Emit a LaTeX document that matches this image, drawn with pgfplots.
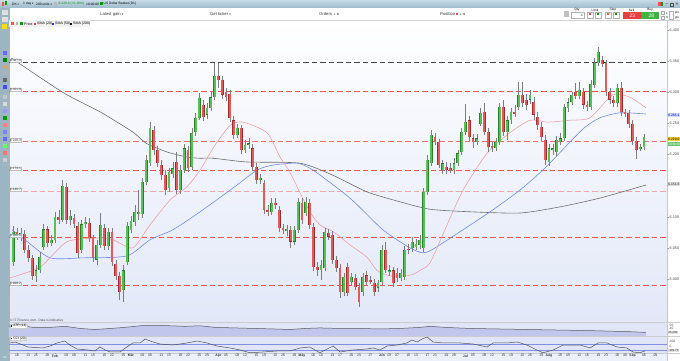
\documentclass[border=0pt]{standalone}
\usepackage{pgfplots}
\pgfplotsset{compat=1.18}
\usepackage{pgfplotstable}
\usepackage{fontspec}
\setmainfont{Liberation Sans}
\newfontfamily\symf{DejaVu Sans}
\newcommand\tf[1]{\fontsize{#1}{#1}\selectfont}
\definecolor{tbTop}{RGB}{200,218,230}
\definecolor{tbBot}{RGB}{156,186,203}
\definecolor{sidebar}{RGB}{156,181,195}
\definecolor{chartBot}{RGB}{226,232,248}
\definecolor{panelbg}{RGB}{224,230,248}
\definecolor{atrfill}{RGB}{192,198,236}
\definecolor{upbody}{RGB}{88,192,88}
\definecolor{upedge}{RGB}{40,128,40}
\definecolor{dnbody}{RGB}{224,92,92}
\definecolor{dnedge}{RGB}{160,44,44}
\definecolor{wick}{RGB}{125,125,125}
\definecolor{lvlred}{RGB}{240,82,82}
\definecolor{lvlred2}{RGB}{243,110,110}
\definecolor{lvlpink}{RGB}{246,165,165}
\definecolor{lvlblack}{RGB}{70,70,70}
\definecolor{smaA}{RGB}{240,155,155}
\definecolor{smaB}{RGB}{110,140,240}
\definecolor{smaC}{RGB}{110,110,110}
\definecolor{ccilvl}{RGB}{130,142,228}
\definecolor{sellred}{RGB}{232,64,64}
\definecolor{buygreen}{RGB}{64,180,64}
\definecolor{boxblue}{RGB}{205,216,250}
\definecolor{boxyellow}{RGB}{238,205,40}
\definecolor{boxgreen}{RGB}{110,196,110}

% up (green) candles: index, open, high, low, close
\pgfplotstableread{
i o h l c
-1 6.027 6.085 6.021 6.076
1 6.069 6.082 6.061 6.074
5 6.005 6.023 5.995 6.014
6 6.014 6.043 6.010 6.035
7 6.051 6.088 6.047 6.080
9 6.058 6.071 6.053 6.063
10 6.063 6.108 6.058 6.100
12 6.095 6.159 6.092 6.149
14 6.095 6.111 6.087 6.101
17 6.047 6.095 6.042 6.088
18 6.088 6.100 6.082 6.092
21 6.031 6.063 6.023 6.055
22 6.055 6.106 6.050 6.087
24 6.053 6.082 6.047 6.076
28 5.982 6.023 5.963 6.014
29 6.027 6.092 6.023 6.085
30 6.079 6.101 6.074 6.093
31 6.092 6.119 6.085 6.108
32 6.104 6.143 6.095 6.108
33 6.104 6.162 6.098 6.156
34 6.156 6.199 6.151 6.191
35 6.186 6.252 6.182 6.243
40 6.146 6.178 6.140 6.172
41 6.169 6.188 6.162 6.178
43 6.143 6.183 6.137 6.175
44 6.175 6.217 6.170 6.210
46 6.180 6.243 6.175 6.235
47 6.236 6.267 6.230 6.259
48 6.259 6.299 6.255 6.291
50 6.264 6.283 6.257 6.275
51 6.275 6.300 6.270 6.292
52 6.292 6.347 6.288 6.326
58 6.231 6.249 6.226 6.243
60 6.207 6.223 6.202 6.215
61 6.215 6.226 6.209 6.218
64 6.159 6.169 6.153 6.162
67 6.108 6.130 6.103 6.122
71 6.079 6.087 6.069 6.080
73 6.060 6.085 6.055 6.079
74 6.079 6.130 6.074 6.124
76 6.106 6.132 6.101 6.124
80 6.014 6.031 5.998 6.023
81 6.018 6.082 6.013 6.076
86 5.979 6.010 5.973 6.003
88 5.995 6.010 5.989 6.003
91 5.979 6.010 5.973 6.003
95 5.986 5.998 5.979 5.994
96 5.995 6.055 5.990 6.047
98 6.011 6.023 6.005 6.014
101 6.002 6.016 5.997 6.010
102 6.003 6.053 5.998 6.047
104 6.050 6.068 6.043 6.060
105 6.051 6.064 6.047 6.056
106 6.055 6.071 6.048 6.063
107 6.050 6.146 6.043 6.140
108 6.140 6.199 6.135 6.191
109 6.186 6.239 6.182 6.231
112 6.175 6.191 6.169 6.186
115 6.175 6.194 6.169 6.186
116 6.186 6.207 6.182 6.202
117 6.204 6.243 6.199 6.236
118 6.236 6.281 6.231 6.252
121 6.220 6.233 6.215 6.226
122 6.249 6.275 6.246 6.267
126 6.210 6.226 6.206 6.220
127 6.220 6.283 6.215 6.276
129 6.236 6.262 6.223 6.255
130 6.255 6.275 6.249 6.268
132 6.276 6.317 6.271 6.296
135 6.288 6.304 6.281 6.296
140 6.188 6.217 6.182 6.210
141 6.207 6.217 6.199 6.210
142 6.204 6.230 6.197 6.223
143 6.220 6.235 6.215 6.226
144 6.226 6.281 6.222 6.276
145 6.275 6.291 6.268 6.284
146 6.284 6.300 6.280 6.296
148 6.294 6.317 6.289 6.304
151 6.276 6.320 6.271 6.313
152 6.312 6.355 6.307 6.347
153 6.347 6.373 6.342 6.365
158 6.283 6.313 6.276 6.307
164 6.210 6.217 6.206 6.212
165 6.212 6.233 6.207 6.229
}\upc

% down (red) candles
\pgfplotstableread{
i o h l c
0 6.076 6.082 6.063 6.069
2 6.072 6.079 6.042 6.047
3 6.047 6.055 6.027 6.034
4 6.034 6.039 5.998 6.005
8 6.080 6.085 6.051 6.058
11 6.100 6.111 6.088 6.095
13 6.148 6.154 6.088 6.095
15 6.098 6.104 6.082 6.088
16 6.085 6.092 6.034 6.042
19 6.090 6.098 6.059 6.066
20 6.066 6.071 6.027 6.034
23 6.082 6.088 6.047 6.053
25 6.076 6.082 6.021 6.027
26 6.024 6.031 5.998 6.005
27 6.005 6.011 5.966 5.979
36 6.239 6.246 6.199 6.207
37 6.207 6.214 6.180 6.186
38 6.183 6.191 6.159 6.167
39 6.167 6.175 6.135 6.143
42 6.188 6.204 6.137 6.143
45 6.207 6.214 6.172 6.178
49 6.280 6.288 6.254 6.260
53 6.326 6.347 6.307 6.320
54 6.320 6.326 6.289 6.296
55 6.300 6.307 6.286 6.292
56 6.297 6.304 6.252 6.259
57 6.255 6.262 6.225 6.231
59 6.243 6.247 6.201 6.207
62 6.210 6.217 6.173 6.180
63 6.180 6.186 6.153 6.159
65 6.154 6.159 6.104 6.111
66 6.111 6.119 6.101 6.108
68 6.122 6.130 6.112 6.119
69 6.111 6.117 6.076 6.082
70 6.082 6.088 6.072 6.079
72 6.079 6.085 6.050 6.060
75 6.122 6.130 6.088 6.095
77 6.122 6.129 6.080 6.087
78 6.084 6.090 6.013 6.019
79 6.019 6.027 6.005 6.014
82 6.074 6.080 6.063 6.068
83 6.071 6.077 6.024 6.031
84 6.031 6.037 6.011 6.018
85 6.018 6.024 5.969 5.979
87 6.019 6.026 5.973 5.978
89 6.002 6.008 5.982 5.987
90 5.987 5.994 5.955 5.963
92 6.006 6.013 5.990 5.995
93 5.998 6.005 5.992 5.997
94 5.994 6.000 5.973 5.979
97 6.047 6.060 6.010 6.014
99 6.014 6.019 5.987 5.994
100 6.010 6.018 5.995 6.002
103 6.048 6.056 6.040 6.047
110 6.228 6.235 6.215 6.220
111 6.220 6.225 6.178 6.183
113 6.180 6.188 6.169 6.175
114 6.178 6.186 6.170 6.177
119 6.255 6.262 6.222 6.228
120 6.226 6.233 6.210 6.220
123 6.268 6.283 6.231 6.236
124 6.236 6.243 6.204 6.212
125 6.214 6.220 6.204 6.210
128 6.276 6.288 6.230 6.236
131 6.268 6.280 6.260 6.267
133 6.296 6.317 6.276 6.283
134 6.288 6.297 6.271 6.280
136 6.284 6.292 6.255 6.264
137 6.260 6.268 6.239 6.247
138 6.244 6.252 6.222 6.228
139 6.223 6.231 6.183 6.191
147 6.300 6.315 6.289 6.294
149 6.300 6.307 6.273 6.280
150 6.280 6.286 6.270 6.276
154 6.352 6.358 6.341 6.345
155 6.347 6.352 6.294 6.300
156 6.300 6.307 6.281 6.288
157 6.288 6.294 6.276 6.283
159 6.307 6.317 6.262 6.268
160 6.268 6.273 6.260 6.267
161 6.267 6.271 6.243 6.249
162 6.249 6.255 6.215 6.222
163 6.222 6.228 6.193 6.207
}\dnc

\pgfplotsset{
  panel/.style={scale only axis, width=658pt, xmin=-2.105, xmax=171.05,
    axis line style={draw=none}, clip=true,
    /pgf/number format/assume math mode=true,
    tick style={draw=gray!70, line width=0.3pt}, major tick length=1.5pt, tick align=outside},
  nomark/.style={only marks, mark=*, mark size=0pt, mark options={draw=none, fill=none}},
  wicks/.style={nomark, forget plot, error bars/.cd, y dir=both, y explicit,
    error mark=none, error bar style={draw=wick, line width=0.55pt}},
  bodies/.style 2 args={nomark, forget plot, error bars/.cd, y dir=both, y explicit,
    error mark=none, error bar style={draw=#1, line width=#2}},
  lvl/.style={forget plot, no marks, line width=0.95pt, dash pattern=on 5.5pt off 3pt},
}
\tikzset{lvllab/.style={anchor=south west, fill=white, fill opacity=0.85, text opacity=1, draw=gray!50,
    line width=0.2pt, inner sep=0.5pt, font=\tf{3.2}, text=black!75}}

\begin{document}
\begin{tikzpicture}[x=1pt,y=1pt]
\path[use as bounding box] (0,0) rectangle (680,361);
\fill[white] (0,0) rectangle (680,361);
% chart background
\shade[top color=white, bottom color=chartBot] (9,39) rectangle (667,341);
\fill[panelbg] (9,8) rectangle (667,39);
\fill[white!40!panelbg] (9,0) rectangle (667,8);
% top bar and toolbar strip
\shade[top color=tbTop, bottom color=tbBot] (0,353) rectangle (680,361);
\fill[white] (0,341) rectangle (680,353);
\draw[gray!35, line width=0.4pt] (0,341) -- (680,341);
\fill[sidebar] (0,0) rectangle (9,353);
\draw[gray!60, line width=0.4pt] (9,0) -- (9,353);
\draw[gray!45, line width=0.4pt] (667,0) -- (667,341);
\draw[gray!40, line width=0.4pt] (9,39) -- (680,39);
\draw[gray!40, line width=0.4pt] (9,25) -- (680,25);
\draw[gray!40, line width=0.4pt] (9,8) -- (680,8);

% ---------- price panel ----------
\begin{axis}[panel, at={(9pt,39pt)}, anchor=south west, height=302pt,
  ymin=5.93093, ymax=6.41606, xtick=\empty,
  ytick={6.0,6.05,6.1,6.15,6.2,6.25,6.3,6.35,6.4},
  yticklabels={6.000,6.050,6.100,,6.200,6.250,6.300,6.350,6.400},
  ytick pos=right, yticklabel pos=right,
  yticklabel style={font=\tf{3.8}, text=black!70, inner sep=1pt}]
% horizontal levels
\addplot[lvl, color=lvlblack] coordinates {(-3,6.3479) (172,6.3479)};
\addplot[lvl, color=lvlred] coordinates {(-3,6.3018) (172,6.3018)};
\addplot[lvl, color=lvlred2] coordinates {(-3,6.2203) (172,6.2203)};
\addplot[lvl, color=lvlred] coordinates {(-3,6.1741) (172,6.1741)};
\addplot[lvl, color=lvlpink] coordinates {(-3,6.1407) (172,6.1407)};
\addplot[lvl, color=lvlred] coordinates {(-3,6.0665) (172,6.0665)};
\addplot[lvl, color=lvlred] coordinates {(-3,5.9902) (172,5.9902)};
% moving averages
\addplot[smaC, no marks, line width=0.6pt, smooth, tension=0.4, forget plot] coordinates {
(-1.5,6.355) (12,6.300) (22,6.268) (30.5,6.236) (34,6.218) (39.5,6.204) (44.7,6.196)
(48,6.194) (51.6,6.194) (60.5,6.188) (74.5,6.186) (83,6.167) (92.1,6.140) (100.8,6.124)
(108.7,6.112) (119.2,6.108) (132.4,6.106) (143,6.116) (153.4,6.130) (165.5,6.151)};
\addplot[smaB, no marks, line width=0.6pt, smooth, tension=0.4, forget plot] coordinates {
(-1.3,6.079) (2.1,6.063) (8.7,6.034) (17.4,6.034) (28.9,6.037) (35,6.063) (41,6.079)
(48.2,6.108) (56.8,6.146) (63.2,6.175) (67.4,6.183) (73.7,6.186) (77.9,6.175) (87.6,6.130)
(96.3,6.079) (103.4,6.050) (106.8,6.042) (109.2,6.047) (116.6,6.076) (124.5,6.108)
(132.4,6.143) (138.9,6.178) (145.5,6.220) (149.5,6.244) (153.4,6.259) (158.7,6.267) (165.5,6.265)};
\addplot[smaA, no marks, line width=0.55pt, smooth, tension=0.4, forget plot] coordinates {
(-1.8,6.002) (6.05,6.019) (13.2,6.060) (21.8,6.066) (25.3,6.063) (30.5,6.050) (35,6.087)
(40.3,6.127) (44.7,6.148) (48.2,6.175) (52.1,6.215) (56.1,6.247) (59.5,6.252) (65.8,6.235)
(69.2,6.196) (71.8,6.172) (74.5,6.138) (77.1,6.108) (79.7,6.087) (83.2,6.076) (87.6,6.055)
(92.1,6.035) (94.7,6.014) (98.2,6.005) (103.4,6.006) (106.1,6.014) (108.7,6.026) (112.6,6.079)
(117.4,6.143) (123.7,6.202) (129.7,6.235) (135,6.255) (139.5,6.252) (145.5,6.255) (150.8,6.259)
(156.8,6.296) (161.3,6.292) (165.5,6.275)};
% candles: wicks
\addplot[wicks] table[x=i, y expr={(\thisrow{h}+\thisrow{l})/2}, y error expr={(\thisrow{h}-\thisrow{l})/2}] {\upc};
\addplot[wicks] table[x=i, y expr={(\thisrow{h}+\thisrow{l})/2}, y error expr={(\thisrow{h}-\thisrow{l})/2}] {\dnc};
% candles: bodies
\addplot[bodies={upedge}{2.9pt}] table[x=i, y expr={(\thisrow{o}+\thisrow{c})/2}, y error expr={max(abs(\thisrow{c}-\thisrow{o})/2,0.0007)}] {\upc};
\addplot[bodies={upbody}{2.0pt}] table[x=i, y expr={(\thisrow{o}+\thisrow{c})/2}, y error expr={max(abs(\thisrow{c}-\thisrow{o})/2-0.0004,0.0004)}] {\upc};
\addplot[bodies={dnedge}{2.9pt}] table[x=i, y expr={(\thisrow{o}+\thisrow{c})/2}, y error expr={max(abs(\thisrow{c}-\thisrow{o})/2,0.0007)}] {\dnc};
\addplot[bodies={dnbody}{2.0pt}] table[x=i, y expr={(\thisrow{o}+\thisrow{c})/2}, y error expr={max(abs(\thisrow{c}-\thisrow{o})/2-0.0004,0.0004)}] {\dnc};
% level labels
\node[lvllab] at (axis cs:-1.95,6.3479) {6.347.9};
\node[lvllab] at (axis cs:-1.95,6.3018) {6.301.8};
\node[lvllab] at (axis cs:-1.95,6.2203) {6.220.3};
\node[lvllab] at (axis cs:-1.95,6.1741) {6.174.1};
\node[lvllab] at (axis cs:-1.95,6.1407) {6.140.7};
\node[lvllab] at (axis cs:-1.95,6.0665) {6.066.5};
\node[lvllab] at (axis cs:-1.95,5.9902) {5.990.2};
\end{axis}

% ---------- ATR panel ----------
\begin{axis}[panel, at={(9pt,25pt)}, anchor=south west, height=14pt,
  ymin=14.8, ymax=56.4, xtick=\empty, ytick=\empty]
\addplot[draw=none, fill=atrfill, forget plot] coordinates {
(-2.2,43.6) (0.8,46.8) (4.2,40.4) (8.7,40.4) (12.6,43.6) (16.6,37.2) (20.5,34) (24.5,37.2)
(28.4,40.4) (32.4,45.2) (36.3,46.8) (40.3,45.2) (44.2,43.6) (48.2,45.2) (52.1,40.4) (57.4,38.8)
(62.6,37.2) (67.9,35.6) (71.8,34) (75.8,37.2) (79.7,38.8) (85,37.2) (90.3,37.2) (95.5,35.6)
(100.8,37.2) (106.1,40.4) (108.7,43.6) (112.6,40.4) (119.2,37.2) (127.1,35.6) (135,34)
(142.9,32.4) (150.8,30.8) (156,29.2) (161.3,27.6) (165.5,25.4)} \closedcycle;
\addplot[draw=gray!70!black, no marks, line width=0.5pt, forget plot] coordinates {
(-2.2,43.6) (0.8,46.8) (4.2,40.4) (8.7,40.4) (12.6,43.6) (16.6,37.2) (20.5,34) (24.5,37.2)
(28.4,40.4) (32.4,45.2) (36.3,46.8) (40.3,45.2) (44.2,43.6) (48.2,45.2) (52.1,40.4) (57.4,38.8)
(62.6,37.2) (67.9,35.6) (71.8,34) (75.8,37.2) (79.7,38.8) (85,37.2) (90.3,37.2) (95.5,35.6)
(100.8,37.2) (106.1,40.4) (108.7,43.6) (112.6,40.4) (119.2,37.2) (127.1,35.6) (135,34)
(142.9,32.4) (150.8,30.8) (156,29.2) (161.3,27.6) (165.5,25.4)};
\end{axis}

% ---------- CCI panel with date axis ----------
\begin{axis}[panel, at={(9pt,8pt)}, anchor=south west, height=17pt,
  ymin=-177, ymax=346, ytick=\empty, xtick pos=bottom, major tick length=0.8pt,
  xtick={0,3,5,8,10,13,15,18,20,23,25,28,30,33,35,38,40,43,45,48,50,53,55,58,60,63,65,68,70,73,75,78,80,83,85,88,90,93,96,98,100,103,105,108,110,113,115,118,120,123,125,128,130,133,135,138,140,143,145,148,150,153,155,158,160,162,165,168},
  xticklabels={18,21,25,28,\textbf{Feb},04,08,11,15,18,22,25,\textbf{Mar},04,08,11,15,18,22,25,29,\textbf{Apr},05,08,12,15,19,22,26,29,\textbf{May},06,10,13,17,20,24,27,\textbf{Jun},03,07,10,14,17,21,24,28,\textbf{Jul},05,08,12,15,19,22,26,29,\textbf{Aug},05,09,12,16,19,23,26,30,\textbf{Sep},06,09},
  xticklabel style={font=\tf{3.4}, text=black!80, inner sep=0.6pt}]
\addplot[ccilvl, no marks, line width=0.6pt, forget plot] coordinates {(-3,100) (172,100)};
\addplot[ccilvl, no marks, line width=0.6pt, forget plot] coordinates {(-3,-100) (172,-100)};
\addplot[gray!65!black, no marks, line width=0.5pt, forget plot] coordinates {
(-1.8,131) (-0.5,162) (1.6,69) (2.9,8) (6.8,-23) (8.7,38) (10.5,131) (12.6,192) (13.9,69)
(15.8,-54) (18.7,-85) (20.5,-115) (21.8,8) (23.2,-85) (24.5,-146) (27.1,-146) (28.9,8)
(30.5,131) (32.4,131) (33.7,254) (35.8,162) (37.6,100) (41,69) (44.7,131) (47.4,192) (50,131)
(52.6,38) (56.1,-23) (58.7,-85) (61.3,-170) (64.7,-146) (68.4,-115) (71.8,-115) (74.5,-23)
(77.1,8) (78.4,-85) (79.7,-170) (81.6,-54) (83.2,38) (85,-146) (88.4,-85) (92.1,-54)
(93.7,-23) (95.5,-85) (97.4,38) (100,69) (102.6,131) (103.9,223) (105.3,162) (106.6,254)
(107.9,315) (109.5,162) (112.1,131) (116.6,131) (120,100) (123.7,8) (125.3,131) (128.9,131)
(131.6,162) (134.2,69) (136.8,-85) (138.4,-170) (141.1,-85) (143.7,69) (148.2,69) (150.8,-23)
(152.9,131) (155.3,131) (157.9,8) (160.5,-23) (162.1,-146) (163.9,-170) (165.3,-110)};
\end{axis}

% ---------- right-hand value boxes ----------
\node[anchor=west, fill=boxblue, text=blue!70!black, inner sep=0.6pt, font=\tf{3.3}] at (667.6,246) {6.265.1};
\node[anchor=west, fill=boxyellow, text=black, inner sep=0.6pt, font=\tf{3.3}] at (667.6,222) {6.229.0};
\node[anchor=west, fill=boxgreen, text=white, inner sep=0.6pt, font=\tf{3.0}] at (667.6,217) {13:58:50};
\node[anchor=west, fill=gray!30, text=black!80, inner sep=0.6pt, font=\tf{3.3}] at (667.6,177) {6.151.6};
\node[anchor=west, font=\tf{3.3}, text=black!70, inner sep=0.5pt] at (669,36) {50};
\node[anchor=west, font=\tf{3.3}, text=black!70, inner sep=0.5pt] at (669,32.6) {40};
\node[anchor=west, fill=gray!22, font=\tf{3.0}, text=black!80, inner sep=0.5pt] at (667.6,28.3) {25.404};
\node[anchor=west, font=\tf{3.3}, text=black!70, inner sep=0.5pt] at (669,20) {200};
\node[anchor=west, font=\tf{3.3}, text=black!70, inner sep=0.5pt] at (669,14.6) {0};
\node[anchor=west, fill=gray!22, font=\tf{3.0}, text=black!80, inner sep=0.5pt] at (667.6,10.2) {-109.73};

% ---------- panel captions ----------
\node[anchor=west, font=\tf{3.3}, text=black!70, inner sep=0pt] at (10,40.3) {\copyright{} IT Finance.com. Data is indicative};
\node[anchor=west, fill=white, draw=gray!40, line width=0.2pt, font=\tf{3.3}, inner sep=0.5pt] at (10,35) {\rule{1.8pt}{1.8pt} ATR (14)};
\node[anchor=west, fill=white, draw=gray!40, line width=0.2pt, font=\tf{3.3}, inner sep=0.5pt] at (10,22.5) {\rule{1.8pt}{1.8pt} CCI (20)};

% ---------- legend row ----------
\fill[gray!10] (9,334) rectangle (90,340.5);
\fill[red!70] (11,335.5) rectangle (14,338.5);
\fill[gray!60] (15.5,335.5) rectangle (18,338.5);
\fill[green!60!black] (19.5,335.5) rectangle (22.5,338.5);
\node[anchor=west, font=\tf{3.6}, inner sep=0pt] at (24,337.2) {Price};
\fill[red!75] (33.5,335.6) rectangle (36.3,338.4);
\node[anchor=west, font=\tf{3.6}, inner sep=0pt] at (37,337.2) {SMA (20)};
\fill[blue!80] (51.5,335.6) rectangle (54.3,338.4);
\node[anchor=west, font=\tf{3.6}, inner sep=0pt] at (55,337.2) {SMA (50)};
\fill[black] (69.5,335.6) rectangle (72.3,338.4);
\node[anchor=west, font=\tf{3.6}, inner sep=0pt] at (73,337.2) {SMA (200)};

% ---------- top bar ----------
\fill[red!70] (2,355) rectangle (4,359);
\fill[green!60!black] (5,355.5) rectangle (7,359.5);
\node[anchor=west, font=\tf{3.3}, inner sep=0pt] at (12,357) {DK \symf\tf{2.6}▾};
\node[anchor=west, font=\tf{3.3}, inner sep=0pt] at (23,357) {1 day \symf\tf{2.6}▾};
\node[anchor=west, font=\tf{3.3}, inner sep=0pt] at (36,357) {200 units \symf\tf{2.6}▾};
\fill[gray!55] (54,355) rectangle (57,359);
\node[anchor=west, font=\tf{3.3}, inner sep=0pt, text=green!55!black] at (58.5,357) {6.229.0 (+0.16\%)};
\node[anchor=west, font=\tf{3.3}, inner sep=0pt] at (86,357) {10:00:00};
\fill[green!60!black] (100,355.5) rectangle (102.5,358.5);
\node[anchor=west, font=\tf{3.3}, inner sep=0pt] at (103.5,357) {US Dollar Basket (D1)};
\fill[red!70] (658,355) rectangle (660.5,359);
\fill[green!60!black] (661,355) rectangle (663,359);
\node[font=\tf{4}, inner sep=0pt] at (667,357.5) {\_};
\draw[black!70, line width=0.3pt] (670,355.3) rectangle (673,358.3);
\node[font=\tf{4.5}, inner sep=0pt] at (677,357) {×};

% ---------- toolbar strip ----------
\node[anchor=west, font=\tf{4.2}, inner sep=0pt, text=black!80] at (100,347) {Latest gain \symf\tf{3}▾};
\node[anchor=west, font=\tf{4.2}, inner sep=0pt, text=black!80] at (210,347) {Get ticker \symf\tf{3}▾};
\node[anchor=west, font=\tf{4.2}, inner sep=0pt, text=black!80] at (319,347) {Orders \symf\tf{3}↓ ⚙};
\node[anchor=west, font=\tf{4.2}, inner sep=0pt, text=black!80] at (440,347) {Position {\color{red!70}\rule{2pt}{2pt}} \symf\tf{3}↓ ⚙};
\fill[gray!50] (564,344) rectangle (569,350);
\node[font=\tf{3.2}, inner sep=0pt] at (577,351) {Qty};
\draw[gray!60, fill=white, line width=0.3pt] (571,342.5) rectangle (584,348.5);
\node[font=\tf{3.2}, inner sep=0pt] at (582,345.5) {1};
\node[font=\tf{3.2}, inner sep=0pt] at (595,351) {Limit};
\draw[gray!60, fill=white, line width=0.3pt] (587.5,342.5) rectangle (593.5,348.5);
\draw[gray!60, fill=white, line width=0.3pt] (595,342.5) rectangle (601,348.5);
\fill[red!70] (589,346) rectangle (591,348); \fill[green!60!black] (597,346) rectangle (599,348);
\node[font=\tf{3.2}, inner sep=0pt] at (613,351) {Stop};
\draw[gray!60, fill=white, line width=0.3pt] (605.5,342.5) rectangle (611.5,348.5);
\draw[gray!60, fill=white, line width=0.3pt] (613,342.5) rectangle (619,348.5);
\fill[red!70] (607,346) rectangle (609,348); \fill[green!60!black] (615,346) rectangle (617,348);
\node[font=\tf{3.2}, inner sep=0pt] at (631.5,351) {Sell};
\fill[sellred] (622.5,341.8) rectangle (640.5,349.3);
\node[font=\tf{5}, text=white, inner sep=0pt] at (632,345.5) {{\tf{3}.}23};
\node[font=\tf{3.2}, inner sep=0pt] at (650,351) {Buy};
\fill[buygreen] (641.2,341.8) rectangle (659.2,349.3);
\node[font=\tf{5}, text=white, inner sep=0pt] at (651,345.5) {{\tf{3}.}28};
\draw[gray!70, fill=white, line width=0.3pt] (661.5,346.5) rectangle (664.5,349.5);
\draw[gray!70, fill=white, line width=0.3pt] (661.5,341.8) rectangle (664.5,344.8);
\node[font=\tf{3}, inner sep=0pt] at (667,348) {L};
\node[font=\tf{3}, inner sep=0pt] at (667,343.3) {S};
\draw[gray!60, line width=0.3pt] (669.5,341.5) rectangle (673,350);
\node[font=\tf{3}, inner sep=0pt] at (677,348) {pts};
\node[font=\tf{3}, inner sep=0pt] at (677,343.3) {pts};

% ---------- left toolbar icons ----------
\fill[gray!25] (1.5,346) rectangle (7.5,351);
\fill[gray!25] (1.5,339) rectangle (7.5,344);
\fill[yellow!80!orange] (2,332) rectangle (7,337);
\foreach \yy/\cc in {306/blue!60, 299/green!50!black, 292/brown!70, 286/gray!60, 279/black!60, 272/blue!70, 262/gray!45, 255/gray!30, 248/blue!40, 241/green!60!black, 234/red!50, 227/blue!50, 220/blue!60, 213/green!60, 206/red!55, 199/gray!40}{
  \fill[\cc] (2.5,\yy) rectangle (6.5,\yy+4);
}
\node[font=\tf{3}, inner sep=0pt, text=white] at (4.5,4) {1/2};
\end{tikzpicture}
\end{document}
